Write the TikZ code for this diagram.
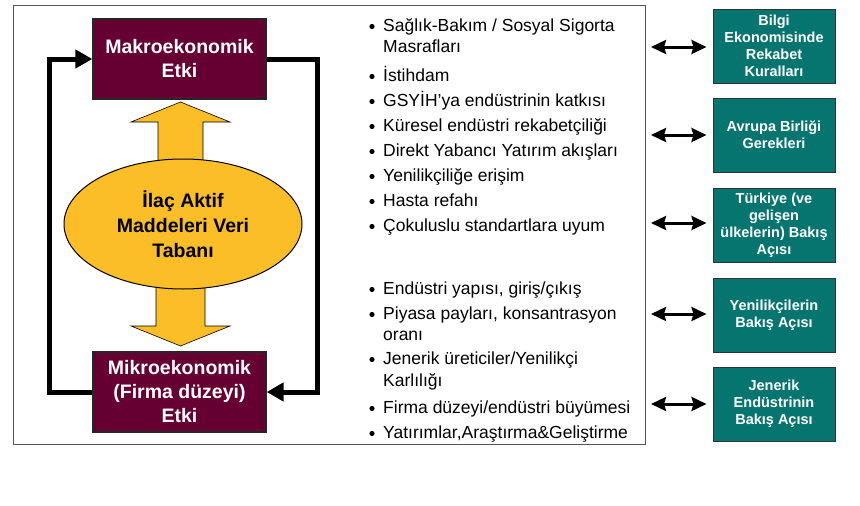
\documentclass[tikz,border=0pt]{standalone}
\usepackage{fontspec}
\setmainfont{Liberation Sans}
\usetikzlibrary{arrows.meta,shapes.geometric}
\definecolor{maroonbox}{HTML}{660033}
\definecolor{tealbox}{HTML}{07756F}
\definecolor{gold}{HTML}{FBBE26}
\definecolor{framegray}{HTML}{555555}
\tikzset{
  macrobox/.style={draw=black!85, line width=1.3pt, fill=maroonbox, text=white, align=center,
    minimum width=173pt, minimum height=80pt, inner sep=0pt,
    font=\fontsize{19.5}{24}\selectfont\bfseries},
  tealnode/.style={draw=black!80, line width=1pt, fill=tealbox, text=white, align=center,
    minimum width=122pt, minimum height=74pt, inner sep=0pt,
    font=\fontsize{14.5}{17}\selectfont\bfseries},
  dbnode/.style={ellipse, draw=black, line width=1pt, fill=gold, align=center,
    minimum width=238pt, minimum height=130pt, inner sep=0pt,
    font=\fontsize{19.5}{25}\selectfont\bfseries},
  blockarrow/.style={draw=black, line width=0.6pt, fill=gold},
  loopline/.style={line width=5pt, -{Triangle[length=17pt,width=18pt]}},
  dbl/.style={line width=3pt, {Stealth[length=15pt,width=14pt,inset=2pt]}-{Stealth[length=15pt,width=14pt,inset=2pt]}},
  itemtext/.style={anchor=base west, inner sep=0pt, font=\fontsize{17.5}{20}\selectfont},
}
\newcommand{\bul}[1]{\fill (372,#1-4.5) circle (2.6pt);}
\begin{document}
\begin{tikzpicture}[x=1pt,y=-1pt]
\useasboundingbox (0,0) rectangle (860,506);
\fill[white] (0,0) rectangle (860,506);
\node[draw=framegray, line width=1pt, minimum width=632pt, minimum height=439pt, inner sep=0pt, anchor=north west] (frame) at (13,5) {};

% block arrows
\draw[blockarrow] (158,165) -- (158,122) -- (131,122) -- (180.5,102) -- (230,122) -- (203,122) -- (203,165) -- cycle;
\draw[blockarrow] (156,280) -- (156,326) -- (131,326) -- (180.5,346) -- (230,326) -- (205,326) -- (205,280) -- cycle;

\node[dbnode] (db) at (183,224) {İlaç Aktif\\Maddeleri Veri\\Tabanı};

\node[macrobox] (makro) at (179.5,59) {Makroekonomik\\Etki};
\node[macrobox] (mikro) at (179.5,392) {Mikroekonomik\\(Firma düzeyi)\\Etki};

% feedback loop
\coordinate (lc) at (49,0);
\coordinate (rc) at (317,0);
\draw[loopline] (mikro.west) -- (mikro.west -| lc) -- (makro.west -| lc) -- (makro.west);
\draw[loopline] (makro.east) -- (makro.east -| rc) -- (mikro.east -| rc) -- (mikro.east);

% first list
\bul{31}\node[itemtext] (s1) at (383,31) {Sağlık-Bakım / Sosyal Sigorta};
\node[itemtext] (s1b) at (383,52) {Masrafları};
\bul{81}\node[itemtext] (s2) at (383,81) {İstihdam};
\bul{106}\node[itemtext] (s3) at (383,106) {GSYİH’ya endüstrinin katkısı};
\bul{131}\node[itemtext] (s4) at (383,131) {Küresel endüstri rekabetçiliği};
\bul{156}\node[itemtext] (s5) at (383,156) {Direkt Yabancı Yatırım akışları};
\bul{181}\node[itemtext] (s6) at (383,181) {Yenilikçiliğe erişim};
\bul{206}\node[itemtext] (s7) at (383,206) {Hasta refahı};
\bul{231}\node[itemtext] (s8) at (383,231) {Çokuluslu standartlara uyum};

% second list
\bul{294}\node[itemtext] (t1) at (383,294) {Endüstri yapısı, giriş/çıkış};
\bul{319}\node[itemtext] (t2) at (383,319) {Piyasa payları, konsantrasyon};
\node[itemtext] (t2b) at (383,340) {oranı};
\bul{364}\node[itemtext] (t3) at (383,364) {Jenerik üreticiler/Yenilikçi};
\node[itemtext] (t3b) at (383,386) {Karlılığı};
\bul{413}\node[itemtext] (t4) at (383,413) {Firma düzeyi/endüstri büyümesi};
\bul{438}\node[itemtext] (t5) at (383,438) {Yatırımlar,Araştırma\&Geliştirme};

% teal boxes
\node[tealnode] (b1) at (774,46) {Bilgi\\Ekonomisinde\\Rekabet\\Kuralları};
\node[tealnode] (b2) at (774,135) {Avrupa Birliği\\Gerekleri};
\node[tealnode] (b3) at (774,225) {Türkiye (ve\\gelişen\\ülkelerin) Bakış\\Açısı};
\node[tealnode] (b4) at (774,315) {Yenilikçilerin\\Bakış Açısı};
\node[tealnode] (b5) at (774,404) {Jenerik\\Endüstrinin\\Bakış Açısı};

% double arrows
\foreach \b/\y in {b1/47,b2/135,b3/223,b4/314,b5/404}{
  \coordinate (s\b) at (651,\y);
  \draw[dbl, shorten >=6pt] (s\b) -- (s\b -| \b.west);
}
\end{tikzpicture}
\end{document}
